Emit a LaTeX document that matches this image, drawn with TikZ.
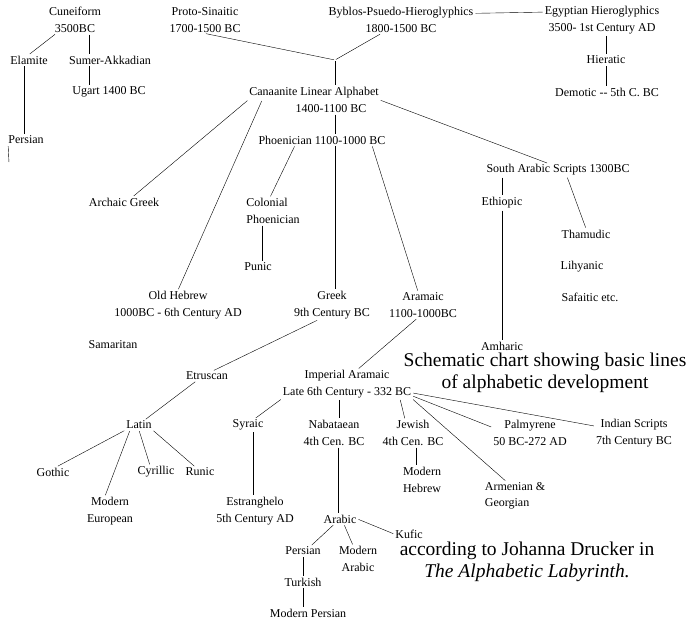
\documentclass[tikz,border=0pt]{standalone}
\usepackage{fontspec}
\setmainfont{Liberation Serif}
\usepackage{tikz}

\begin{document}
\begin{tikzpicture}[x=1pt,y=-1pt,
    lbl/.style={inner sep=1pt,align=center,font=\fontsize{12}{16.5}\selectfont},
    big/.style={inner sep=1pt,align=center,font=\fontsize{19.5}{21.5}\selectfont},
    link/.style={thin,shorten <=1pt,shorten >=1pt}]
    \useasboundingbox (0,0) rectangle (688,621);
    % top row
    \node[lbl] (cun) at (75,20) {Cuneiform\\3500BC};
    \node[lbl] (pro) at (205,20) {Proto-Sinaitic\\1700-1500 BC};
    \node[lbl] (byb) at (401,20) {Byblos-Psuedo-Hieroglyphics\\1800-1500 BC};
    \node[lbl] (egy) at (602,20) {Egyptian Hieroglyphics\\3500- 1st Century AD};
    \node[lbl] (ela) at (29,60) {Elamite};
    \node[lbl] (sum) at (110,60) {Sumer-Akkadian};
    \node[lbl] (uga) at (109,92) {Ugart 1400 BC};
    \node[lbl] (per) at (26,140) {Persian};
    \node[lbl] (hie) at (606,60) {Hieratic};
    \node[lbl] (dem) at (607,92) {Demotic -{}- 5th C. BC};
    \coordinate (jn) at (335,60);
    \coordinate (perend) at (9,163);%
    % canaanite branch
    \node[lbl] (cana) at (314,100) {Canaanite Linear Alphabet\\\hspace*{34pt}1400-1100 BC};
    \node[lbl] (phoe) at (322,140) {Phoenician 1100-1000 BC};
    \node[lbl] (arc) at (124,202) {Archaic Greek};
    \node[lbl,align=left] (col) at (273,211) {Colonial\\Phoenician};
    \node[lbl] (pun) at (258,267) {Punic};
    \node[lbl] (oldh) at (178,305) {Old Hebrew\\1000BC - 6th Century AD};
    \node[lbl] (grk) at (332,305) {Greek\\9th Century BC};
    \node[lbl] (ara) at (423,305) {Aramaic\\1100-1000BC};
    \node[lbl] (sama) at (113,345) {Samaritan};
    \node[lbl] (sar) at (558,170) {South Arabic Scripts 1300BC};
    \node[lbl] (eth) at (502,203) {Ethiopic};
    \node[lbl] (amh) at (502,346) {Amharic};
    \node[lbl] (tha) at (586,234) {Thamudic};
    \node[lbl] (lih) at (582,267) {Lihyanic};
    \node[lbl] (saf) at (590,297) {Safaitic etc.};%
    % greek and aramaic descendants
    \node[lbl] (etr) at (207,376) {Etruscan};
    \node[lbl] (lat) at (139,425) {Latin};
    \node[lbl] (got) at (53,472) {Gothic};
    \node[lbl] (meu) at (110,511) {Modern\\European};
    \node[lbl] (cyr) at (156,472) {Cyrillic};
    \node[lbl] (run) at (200,472) {Runic};
    \node[lbl] (imp) at (347,384) {Imperial Aramaic\\Late 6th Century - 332 BC};
    \node[lbl] (syr) at (248,425) {Syraic};
    \node[lbl] (est) at (255,511) {Estranghelo\\5th Century AD};
    \node[lbl] (nab) at (334,433) {Nabataean\\4th Cen. BC};
    \node[lbl] (jew) at (413,433) {Jewish\\4th Cen. BC};
    \node[lbl] (mhe) at (422,480) {Modern\\Hebrew};
    \node[lbl,align=left] (arm) at (515,496) {Armenian \&\\Georgian};
    \node[lbl] (pal) at (530,433) {Palmyrene\\50 BC-272 AD};
    \node[lbl] (ind) at (634,433) {Indian Scripts\\7th Century BC};
    \node[lbl] (arb) at (340,519) {Arabic};
    \node[lbl] (kuf) at (409,534) {Kufic};
    \node[lbl] (per2) at (303,551) {Persian};
    \node[lbl] (mar) at (358,559) {Modern\\Arabic};
    \node[lbl] (tur) at (303,582) {Turkish};
    \node[lbl] (mpe) at (308,613) {Modern Persian};%
    % lines
    \draw[link] ([xshift=8pt]cun.south west) -- (ela.north);
    \draw[link] ([xshift=14pt]cun.south) -- ([xshift=14pt]cun.south |- sum.north);
    \draw[link] ([xshift=-21pt]sum.south) -- ([xshift=-21pt]sum.south |- uga.north);
    \draw[link] ([xshift=-5pt]ela.south) -- ([xshift=-5pt]ela.south |- per.north);
    \draw[link] ([xshift=1pt]per.south west) -- (perend);
    \draw[link] (pro.south) -- (jn);
    \draw[link] ([xshift=-20pt]byb.south) -- (jn);
    \draw[link] (jn) -- (jn |- cana.north);
    \draw[link] ([yshift=-7pt]byb.north east) -- ([yshift=-7pt]egy.north west);
    \draw[link] (hie.north |- egy.south) -- (hie.north);
    \draw[link] (hie.south) -- (hie.south |- dem.north);%
    \draw[link] (cana.west) -- ([xshift=9pt]arc.north);
    \draw[link] ([xshift=14pt]cana.west) -- (oldh.north);
    \draw[link] (cana.east) -- ([xshift=-10pt]sar.north);
    \draw[link] (jn |- cana.south) -- (jn |- phoe.north);
    \draw[link] ([xshift=-27pt]phoe.south) -- ([xshift=-3pt]col.north);
    \draw[link] ([xshift=-11pt]col.south) -- ([xshift=-11pt]col.south |- pun.north);
    \draw[link] (jn |- phoe.south) -- (jn |- grk.north);
    \draw[link] ([xshift=50pt]phoe.south) -- ([xshift=-5pt]ara.north);
    \draw[link] (eth.north |- sar.south) -- (eth.north);
    \draw[link] (eth.south) -- (amh.north);
    \draw[link] ([xshift=9pt]sar.south) -- (tha.north);%
    \draw[link] ([xshift=-14pt]grk.south) -- ([xshift=6pt]etr.north);
    \draw[link] ([xshift=-11pt]etr.south) -- ([xshift=6pt]lat.north);
    \draw[link] (lat.south west) -- ([xshift=4pt]got.north);
    \draw[link] ([xshift=-9pt]lat.south) -- ([xshift=-5pt]meu.north);
    \draw[link] (lat.south) -- ([xshift=-6pt]cyr.north);
    \draw[link] (lat.south east) -- ([xshift=-5pt]run.north);%
    \draw[link] ([xshift=-6pt]ara.south) -- ([xshift=11pt]imp.north);
    \draw[link] (imp.south west) -- ([xshift=7pt]syr.north);
    \draw[link] ([xshift=5pt]syr.south) -- ([xshift=5pt]syr.south |- est.north);
    \draw[link] ([xshift=-8pt]imp.south) -- ([xshift=-8pt]imp.south |- nab.north);
    \draw[link] ([xshift=4pt]nab.south) -- ([xshift=4pt]nab.south |- arb.north);
    \draw[link] ([xshift=53pt]imp.south) -- ([xshift=-8pt]jew.north);
    \draw[link] ([xshift=3pt]jew.south) -- ([xshift=3pt]jew.south |- mhe.north);
    \draw[link] (imp.south east) -- ([xshift=-9pt]arm.north);
    \draw[link] ([yshift=3pt]imp.south east) -- ([yshift=-8pt]pal.north west);
    \draw[link] ([yshift=6pt]imp.south east) -- ([yshift=-8pt]ind.north west);%
    \draw[link] ([xshift=-6pt]arb.south) -- ([xshift=8pt]per2.north);
    \draw[link] ([xshift=4pt]arb.south) -- ([xshift=-5pt]mar.north);
    \draw[link] (arb.east) -- (kuf.west);
    \draw[link] (per2.south) -- (tur.north);
    \draw[link] ([xshift=-5pt]mpe.north |- tur.south) -- ([xshift=-5pt]mpe.north);%
    % captions
    \node[big] (title) at (545,373) {Schematic chart showing basic lines\\of alphabetic development};
    \node[big] (src) at (527,562) {according to Johanna Drucker in\\\textit{The Alphabetic Labyrinth.}};
\end{tikzpicture}
\end{document}
